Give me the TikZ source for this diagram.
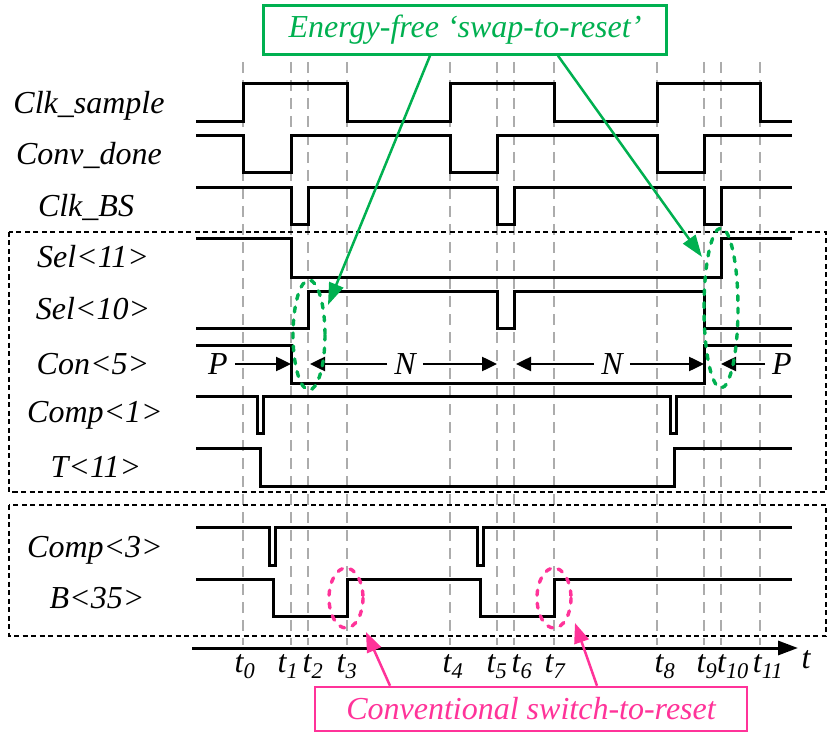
\documentclass[tikz,border=0pt]{standalone}
\usepackage{fontspec}
\setmainfont{Liberation Serif}
\usetikzlibrary{arrows.meta}
\definecolor{swapgreen}{RGB}{0,176,80}
\definecolor{resetpink}{RGB}{255,51,153}

\begin{document}
\begin{tikzpicture}[x=1pt,y=-1pt,
  wave/.style={line width=3pt,line join=miter},
  tline/.style={gray!65,line width=1.6pt,dash pattern=on 11pt off 7pt},
  frame/.style={line width=2.2pt,dash pattern=on 5pt off 3.5pt},
  sig/.style={anchor=base,inner sep=0pt,font=\fontsize{32}{36}\selectfont\itshape},
  tlab/.style={sig},
  spanlab/.style={inner sep=7pt,font=\fontsize{32}{36}\selectfont\itshape},
  span/.style={line width=2.5pt,-{Triangle[length=15pt,width=14pt]}},
  ring/.style={line width=3.4pt,line cap=round,dash pattern=on 5pt off 8pt},
  swapbox/.style={draw=swapgreen,fill=white,line width=2.5pt,text=swapgreen,minimum width=403pt,minimum height=49pt,inner sep=0pt,font=\fontsize{32}{36}\selectfont\itshape},
  resetbox/.style={draw=resetpink,fill=white,line width=2.5pt,text=resetpink,minimum width=432pt,minimum height=44pt,inner sep=0pt,font=\fontsize{32}{36}\selectfont\itshape},
  swaparrow/.style={swapgreen,line width=2.5pt,-{Triangle[length=22pt,width=15pt]}},
  resetarrow/.style={resetpink,line width=2.5pt,-{Triangle[length=20pt,width=15pt]}}]
\useasboundingbox (0,0) rectangle (831,733);
\foreach \x [count=\i from 0] in {243,291,308,347,450,497,514,554,657,704,721,760} {
  \coordinate (l\i) at (\x,62);
  \draw[tline] (l\i) -- (\x,645);
}
\draw[frame] (9,232) rectangle (826,492);
\draw[frame] (9,505) rectangle (826,636);
\node[sig] (lclksample) at (89,114) {Clk\_sample};
\node[sig] (lconvdone) at (89,165) {Conv\_done};
\node[sig] (lclkbs) at (86,217) {Clk\_BS};
\node[sig] (lsel11) at (93,268) {Sel<11>};
\node[sig] (lsel10) at (93,319) {Sel<10>};
\node[sig] (lcon5) at (93,374) {Con<5>};
\node[sig] (lcomp1) at (95,422) {Comp<1>};
\node[sig] (ltdac) at (96,477) {T<11>};
\node[sig] (lcomp3) at (95,557) {Comp<3>};
\node[sig] (lb35) at (97,608) {B<35>};
\draw[wave] (196,122) -| (243,84) -| (347,122) -| (450,84) -| (554,122) -| (657,84) -| (760,122) -- (792,122);
\draw[wave] (196,136) -| (243,173) -| (291,136) -| (450,173) -| (497,136) -| (657,173) -| (704,136) -- (792,136);
\draw[wave] (196,188) -| (291,225) -| (308,188) -| (497,225) -| (514,188) -| (704,225) -| (721,188) -- (792,188);
\draw[wave] (196,239) -| (291,277) -| (721,239) -- (792,239);
\draw[wave] (196,328) -| (308,291) -| (497,328) -| (514,291) -| (704,328) -- (792,328);
\draw[wave] (196,345) -| (291,383) -| (704,345) -- (792,345);
\draw[wave] (196,396) -| (257,433) -| (263,396) -| (670,433) -| (676,396) -- (792,396);
\draw[wave] (196,448) -| (260,486) -| (674,448) -- (792,448);
\draw[wave] (196,527) -| (269,565) -| (275,527) -| (477,565) -| (483,527) -- (792,527);
\draw[wave] (196,579) -| (273,616) -| (347,579) -| (480,616) -| (554,579) -- (792,579);
\node[spanlab] (pleft) at (218,364) {P};
\node[spanlab] (nfirst) at (405,364) {N};
\node[spanlab] (nsecond) at (612,364) {N};
\node[spanlab] (pright) at (782,364) {P};
\draw[span] (pleft) -- (pleft -| l1);
\draw[span] (nfirst) -- ([xshift=2pt]nfirst -| l2);
\draw[span] (nfirst) -- (nfirst -| l5);
\draw[span] (nsecond) -- ([xshift=2pt]nsecond -| l6);
\draw[span] (nsecond) -- (nsecond -| l9);
\draw[span] (pright) -- (pright -| l10);
\draw[line width=3pt,-{Triangle[length=20pt,width=14pt]}] (192,648) -- (798,648);
\foreach \x [count=\i from 0] in {245,288,313,347,453,497,522,555,665,707,733,768}
  \node[tlab] (t\i) at (\x,672) {t\textsubscript{\i}};
\node[tlab] (taxis) at (806,668) {t};
\draw[ring,swapgreen] (309,335) ellipse [x radius=16,y radius=55];
\draw[ring,swapgreen] (721,308) ellipse [x radius=17,y radius=80];
\draw[ring,resetpink] (346,598) ellipse [x radius=17,y radius=30];
\draw[ring,resetpink] (554,598) ellipse [x radius=17,y radius=30];
\node[swapbox] (swap) at (465,30) {Energy-free ‘swap-to-reset’};
\node[resetbox] (reset) at (531,709) {Conventional switch-to-reset};
\coordinate (swapend1) at (328,305);
\coordinate (swapend2) at (702,257);
\coordinate (resetend1) at (366,632);
\coordinate (resetend2) at (575,623);
\draw[swaparrow] ([xshift=-35pt]swap.south) -- (swapend1);
\draw[swaparrow] ([xshift=93pt]swap.south) -- (swapend2);
\draw[resetarrow] ([xshift=-141pt]reset.north) -- (resetend1);
\draw[resetarrow] ([xshift=66pt]reset.north) -- (resetend2);
\end{tikzpicture}
\end{document}
